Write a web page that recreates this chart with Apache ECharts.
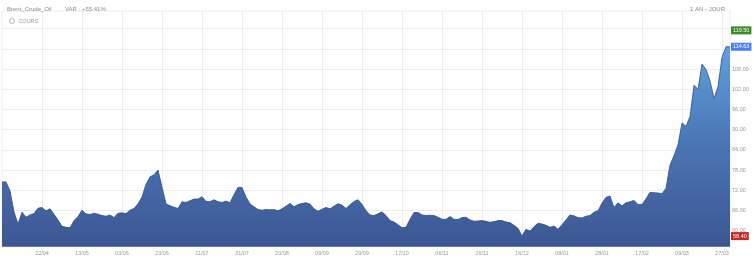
<!DOCTYPE html>
<html><head><meta charset="utf-8">
<script src="https://cdn.jsdelivr.net/npm/echarts@6/dist/echarts.min.js"></script>
<style>html,body{margin:0;padding:0;background:#fff}#c{width:754px;height:260px}</style>
</head><body><div id="c"></div>
<script>
var tickLabels = ['22/04','13/05','03/06','23/06','11/07','31/07','20/08','09/09','29/09','17/10','06/11','26/11','16/12','08/01','28/01','17/02','09/03','27/03'];
var prices = [
74.5,74.5,71.8,65.6,62.0,65.5,64.0,64.7,65.1,66.7,
66.9,65.9,66.5,64.9,63.2,61.3,61.0,60.9,63.0,64.2,
66.1,65.0,64.8,65.2,64.9,64.5,64.3,64.7,63.9,65.2,
65.3,65.1,66.1,66.6,68.0,70.0,73.8,76.0,76.6,78.0,
73.0,68.0,67.4,67.0,66.6,68.6,68.4,68.9,69.4,69.4,
70.1,68.7,68.6,69.2,68.6,68.4,68.8,68.3,70.7,72.9,
72.8,70.0,68.0,67.1,66.3,66.1,66.3,66.2,66.3,65.9,
66.5,67.3,68.1,67.1,67.8,68.1,68.3,67.9,66.5,65.8,
66.4,66.9,66.5,67.3,68.0,67.6,66.6,67.7,68.7,69.2,
67.8,66.0,64.7,64.5,65.0,65.6,64.5,63.0,62.6,61.8,
60.9,61.0,63.4,65.4,65.4,64.7,64.5,64.6,64.5,64.0,
63.4,63.4,64.2,63.4,63.3,63.9,64.0,63.2,62.8,62.9,
63.0,62.8,62.5,62.7,63.0,63.0,62.6,62.4,61.6,60.7,
58.4,60.4,59.9,61.2,62.2,62.0,61.6,61.0,61.4,60.4,
61.8,63.2,64.7,64.4,63.9,63.8,64.3,64.5,65.5,65.9,
68.2,69.9,70.3,66.9,68.3,67.4,68.3,68.6,69.0,67.8,
67.8,69.5,71.4,71.3,71.2,71.0,72.6,79.5,82.3,85.5,
92.0,91.0,93.9,103.2,102.0,109.5,107.9,104.5,99.3,102.8,
111.5,114.63,114.63
];
var yTicks = [60,66,72,78,84,90,96,102,108,114,120];
var yLabels = [60,66,72,78,84,90,96,102,108];
var highValue = 119.50, lastValue = 114.63, lowValue = 58.40;

var categories = prices.map(function(_, i){ return String(i); });
var labelAt = {};
tickLabels.forEach(function(t, k){ labelAt[(k+1)*10] = t; });

var chart = echarts.init(document.getElementById('c'), null, {renderer:'canvas'});
var FF = 'Liberation Sans, Arial, sans-serif';
function tag(v, bg){
  return {yAxis:v, label:{show:true, position:'end', distance:1, formatter:v.toFixed(2),
    backgroundColor:bg, color:'#fff', fontSize:5.5, fontFamily:FF, padding:[1,2,1,2]},
    lineStyle:{color:'rgba(0,0,0,0)', width:0}};
}
chart.setOption({
  animation:false,
  title:[
    {text:'Brent_Crude_Oil', left:2, top:1, textStyle:{fontFamily:FF, fontSize:6, color:'#8a8a8a', fontWeight:'normal'}},
    {text:'VAR : +55.41%', left:60, top:1, textStyle:{fontFamily:FF, fontSize:6, color:'#8a8a8a', fontWeight:'normal'}},
    {text:'1 AN - JOUR', right:24, top:1, textStyle:{fontFamily:FF, fontSize:6, color:'#8a8a8a', fontWeight:'normal'}}
  ],
  legend:{left:4, top:13, icon:'circle', itemWidth:5, itemHeight:5, itemGap:4,
    itemStyle:{color:'#fff', borderColor:'#aaa', borderWidth:0.8},
    textStyle:{fontFamily:FF, fontSize:5.5, color:'#999', padding:[0,0,0,-1]}, data:['COURS']},
  grid:{left:2, right:24, top:11, bottom:13.3, show:true, borderColor:'#eeeeee', borderWidth:1},
  xAxis:{type:'category', data:categories, boundaryGap:false,
    axisLine:{show:false}, axisTick:{show:false},
    axisLabel:{interval:function(i){ return !!labelAt[i]; }, formatter:function(v, i){ return labelAt[i] || ''; },
      margin:4, fontFamily:FF, fontSize:5.5, color:'#999'},
    splitLine:{show:true, interval:function(i){ return !!labelAt[i]; }, lineStyle:{color:'#ececec', width:1}}},
  yAxis:{type:'value', position:'right', min:55.25, max:125.25, scale:true,
    axisLine:{show:false}, axisTick:{show:false, customValues:yTicks},
    axisLabel:{customValues:yLabels, formatter:function(v){ return v.toFixed(2); }, margin:2,
      fontFamily:FF, fontSize:5.5, color:'#999'},
    splitLine:{show:true, lineStyle:{color:'#ececec', width:1}}},
  series:[{
    name:'COURS', type:'line', data:prices, symbol:'none', smooth:false,
    lineStyle:{color:'#2f4d86', width:0.8},
    itemStyle:{color:'#4a6aaa'},
    areaStyle:{origin:'start', opacity:1, color:new echarts.graphic.LinearGradient(0,0,0,1,[
      {offset:0, color:'#5fa0dc'},{offset:0.5, color:'#4b74b4'},{offset:1, color:'#3c5693'}])},
    markLine:{silent:true, symbol:['none','none'], animation:false,
      data:[tag(highValue,'#3c8a2c'), tag(lastValue,'#4a7ff2'), tag(lowValue,'#c2281f')]}
  }]
});
</script></body></html>
